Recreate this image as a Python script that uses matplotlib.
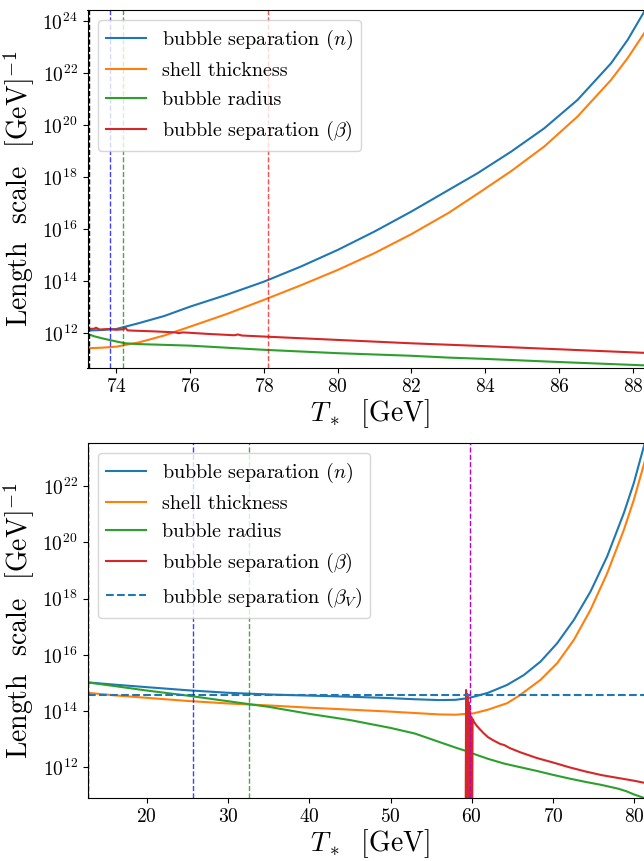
import numpy as np
import matplotlib
matplotlib.use("Agg")
import matplotlib.pyplot as plt
from matplotlib.ticker import LogFormatterMathtext, NullLocator

plt.rcParams['font.family'] = 'serif'
plt.rcParams['font.serif'] = ['cmr10']
plt.rcParams['mathtext.fontset'] = 'cm'
plt.rcParams['axes.formatter.use_mathtext'] = True

# ---- top panel (values are log10 of the length scale) ----
T_top = [73.22, 73.6, 74.0, 74.6, 75.3, 76.0, 77.0, 78.0, 79.0, 80.0, 81.0, 82.0,
         83.01, 83.79, 84.7, 85.6, 86.5, 87.41, 87.86, 88.31, 88.52]
sep_n_top = [12.09, 12.11, 12.15, 12.37, 12.65, 13.01, 13.47, 13.97, 14.55, 15.19, 15.9, 16.67,
             17.5, 18.14, 18.97, 19.87, 20.96, 22.37, 23.27, 24.36, 24.85]
shell_top = [11.41, 11.43, 11.47, 11.63, 11.9, 12.24, 12.73, 13.27, 13.83, 14.42, 15.07, 15.8,
             16.62, 17.35, 18.22, 19.17, 20.32, 21.73, 22.57, 23.53, 24.0]

T_rad_top = [73.22, 73.4, 73.62, 74.0, 74.25, 74.6, 75.07, 76.0, 78.0, 80.0, 82.0, 83.0, 84.0, 86.0, 88.52]
radius_top = [11.96, 11.87, 11.79, 11.67, 11.6, 11.57, 11.55, 11.51, 11.35, 11.22, 11.12, 11.05, 11.0, 10.88, 10.74]

T_beta_top = [73.22, 73.4, 73.45, 73.55, 73.8, 74.0, 74.2, 74.25, 74.3, 74.4, 75.0, 75.6, 75.7,
              75.8, 76.5, 77.2, 77.3, 77.4, 78.0, 80.0, 82.0, 84.0, 86.0, 88.52]
beta_top = [12.15, 12.16, 12.2, 12.13, 12.15, 12.12, 12.14, 12.2, 12.1, 12.09, 12.06, 12.02, 11.99,
            12.02, 11.96, 11.91, 11.94, 11.9, 11.86, 11.73, 11.6, 11.49, 11.37, 11.22]

vlines_top = [(73.25, 'k', 1.0), (73.82, 'b', 0.75), (74.19, 'g', 0.7), (78.12, 'r', 0.7)]

# ---- bottom panel ----
T_n_bot = [12.7, 16, 20, 25, 30, 35, 40, 45, 50, 53, 56, 58, 59.3, 60.25, 62, 64.35, 66.4,
           68.46, 70.5, 72.56, 74.61, 76.66, 78.71, 79.94, 81.17, 82.2]
sep_n_bot = [15.02, 14.94, 14.85, 14.74, 14.65, 14.59, 14.55, 14.51, 14.46, 14.42, 14.39, 14.4,
             14.45, 14.51, 14.65, 14.93, 15.28, 15.76, 16.41, 17.24, 18.25, 19.5, 21.04, 22.11,
             23.41, 24.6]
T_sh_bot = [12.7, 16, 20, 25, 30, 35, 40, 45, 50, 53, 56, 58, 59.3, 60.25, 62, 64.35, 65.8,
            68.46, 70.5, 72.56, 74.61, 76.66, 78.71, 79.94, 81.17, 82.2]
shell_bot = [14.65, 14.56, 14.47, 14.36, 14.27, 14.2, 14.12, 14.05, 13.98, 13.93, 13.88, 13.87,
             13.9, 13.92, 14.05, 14.28, 14.54, 15.11, 15.7, 16.53, 17.6, 18.9, 20.44, 21.51,
             22.76, 23.85]
T_rad_bot = [12.7, 16, 20, 25, 30, 35, 40, 45, 50, 53, 56, 58, 59.3, 60.5, 62, 64, 66, 68,
             70, 72, 74, 76, 78, 79, 80, 81, 82.2]
radius_bot = [15.02, 14.89, 14.73, 14.55, 14.35, 14.15, 13.9, 13.68, 13.4, 13.2, 12.9, 12.7,
              12.58, 12.45, 12.3, 12.13, 12.0, 11.87, 11.73, 11.6, 11.48, 11.37, 11.24, 11.15,
              11.03, 10.93, 10.78]

T_beta_bot = [59.22, 59.3, 59.38, 59.46, 59.54, 59.62, 59.7, 59.78, 59.86, 59.94, 60.02, 60.1,
              60.3, 60.6, 61.0, 61.5, 62.0, 62.7, 63.5, 64.0, 64.7, 66.0, 68.0, 70.0, 72.0,
              74.0, 76.0, 78.0, 80.0, 81.2, 82.2]
beta_bot = [8.0, 14.75, 8.0, 14.6, 8.0, 14.3, 8.0, 14.0, 8.0, 13.8, 8.0, 13.72,
            13.6, 13.48, 13.35, 13.2, 13.07, 12.95, 12.83, 12.79, 12.68, 12.53, 12.33, 12.17,
            12.0, 11.85, 11.72, 11.62, 11.52, 11.45, 11.4]

beta_V = 14.56
vlines_bot = [(12.72, 'k', 1.0), (25.64, 'b', 0.75), (32.53, 'g', 0.7), (59.79, 'm', 1.0)]

fig = plt.figure(figsize=(6.44, 8.61), dpi=100)
W, H = 644.0, 861.0
ax1 = fig.add_axes([87.5 / W, 1 - 368 / H, 564.5 / W, 358 / H])
ax2 = fig.add_axes([87.5 / W, 1 - 798.2 / H, 564.5 / W, 355.6 / H])


def pw(v):
    return 10.0 ** np.array(v)


ax1.semilogy(T_top, pw(sep_n_top), color='C0', label=r'bubble separation $(n)$')
ax1.semilogy(T_top, pw(shell_top), color='C1', label='shell thickness')
ax1.semilogy(T_rad_top, pw(radius_top), color='C2', label='bubble radius')
ax1.semilogy(T_beta_top, pw(beta_top), color='C3', label=r'bubble separation $(\beta)$')
for x, c, a in vlines_top:
    ax1.axvline(x, color=c, ls='--', lw=1, alpha=a)
ax1.set_xlim(73.22, 88.52)
ax1.set_ylim(10 ** 10.65, 10 ** 24.42)
ax1.set_yticks([10.0 ** k for k in range(12, 25, 2)])
ax1.set_xticks([74, 76, 78, 80, 82, 84, 86, 88])

ax2.semilogy(T_n_bot, pw(sep_n_bot), color='C0', label=r'bubble separation $(n)$')
ax2.semilogy(T_sh_bot, pw(shell_bot), color='C1', label='shell thickness')
ax2.semilogy(T_rad_bot, pw(radius_bot), color='C2', label='bubble radius')
ax2.semilogy(T_beta_bot, pw(beta_bot), color='C3', label=r'bubble separation $(\beta)$')
ax2.axhline(10 ** beta_V, color='C0', ls='--', label=r'bubble separation $(\beta_V)$')
for x, c, a in vlines_bot:
    ax2.axvline(x, color=c, ls='--', lw=1, alpha=a)
ax2.set_xlim(12.7, 82.18)
ax2.set_ylim(10 ** 10.9, 10 ** 23.55)
ax2.set_yticks([10.0 ** k for k in range(12, 23, 2)])
ax2.set_xticks([20, 30, 40, 50, 60, 70, 80])

for ax in (ax1, ax2):
    ax.yaxis.set_major_formatter(LogFormatterMathtext())
    ax.yaxis.set_minor_locator(NullLocator())
    ax.tick_params(labelsize=14)
    ax.spines['right'].set_visible(False)
    ax.set_xlabel(r'$T_*\;$ [GeV]', fontsize=20, labelpad=1)
    ax.set_ylabel(r'Length  scale  $[\mathrm{GeV}]^{-1}$', fontsize=20)
    ax.legend(loc='upper left', fontsize=14.5)

fig.savefig('out.png', dpi=100)
